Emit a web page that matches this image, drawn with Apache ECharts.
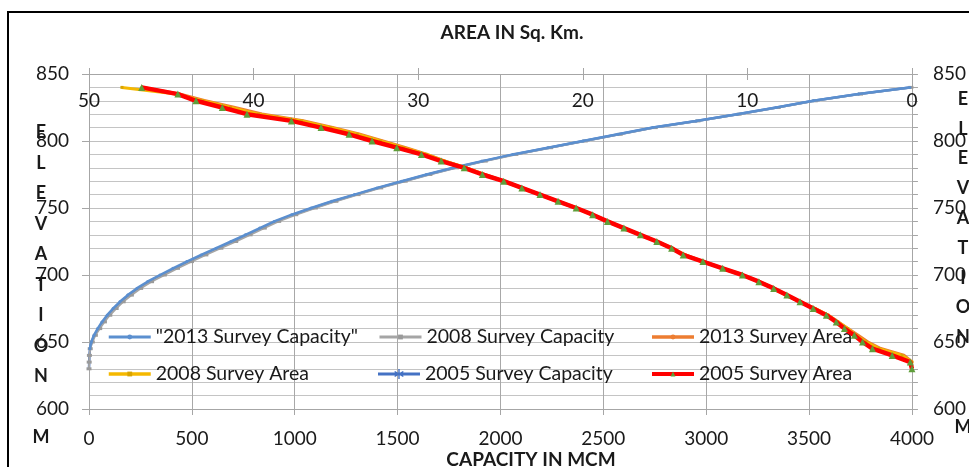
<!DOCTYPE html>
<html>
<head>
<meta charset="utf-8">
<script src="https://cdn.jsdelivr.net/npm/echarts@6/dist/echarts.min.js"></script>
<style>
  html, body { margin: 0; padding: 0; background: #fff; }
  #chart { width: 969px; height: 467px; }
</style>
</head>
<body>
<div id="chart"></div>
<script>
// Reservoir elevation (m) steps used by every survey table
const elevations = [630, 635, 640, 645, 650, 655, 660, 665, 670, 675, 680, 685, 690, 695,
  700, 705, 710, 715, 720, 725, 730, 735, 740, 745, 750, 755, 760, 765, 770, 775, 780,
  785, 790, 795, 800, 805, 810, 815, 820, 825, 830, 835, 840];

// Capacity in MCM at each elevation (null = not surveyed)
const capacity2013 = [null, null, null, 4, 11, 24, 42, 63, 88, 117, 150, 188, 232, 284,
  345, 408, 475, 545, 618, 690, 760, 830, 900, 985, 1080, 1180, 1290, 1400, 1520, 1640, 1770,
  1910, 2060, 2230, 2400, 2570, 2740, 2950, 3150, 3340, 3520, 3740, 3990];
const capacity2008 = [0, 1, 2, 6, 16, 31, 52, 75, 101, 132, 166, 206, 251, 304,
  366, 430, 498, 568, 641, 713, 783, 852, 922, 1005, 1100, 1200, 1308, 1418, 1537, 1657, 1786,
  1926, 2075, 2243, 2412, 2582, 2752, 2960, 3160, 3350, 3530, 3750, 3995];
const capacity2005 = [0, 1, 2, 5, 13, 27, 46, 68, 93, 123, 157, 196, 240, 292,
  353, 416, 484, 554, 627, 699, 769, 839, 909, 993, 1088, 1188, 1297, 1407, 1527, 1647, 1777,
  1917, 2066, 2235, 2405, 2575, 2745, 2953, 3153, 3343, 3523, 3743, 3990];

// Water spread area in Sq. Km. at each elevation
const area2013 = [null, 0.0, 0.5, 1.9, 2.7, 3.3, 3.9, 4.5, 5.1, 5.9, 6.8, 7.6, 8.4, 9.3,
  10.3, 11.5, 12.7, 13.8, 14.6, 15.5, 16.5, 17.5, 18.5, 19.4, 20.4, 21.5, 22.6, 23.7, 24.8, 26.0, 27.1,
  28.4, 29.5, 30.8, 32.2, 33.6, 35.2, 37.0, 39.5, 41.2, 43.0, 44.5, 46.8];
const area2008 = [null, 0.0, 0.6, 2.0, 2.8, 3.4, 3.9, 4.5, 5.1, 5.9, 6.8, 7.6, 8.4, 9.3,
  10.3, 11.5, 12.7, 13.8, 14.6, 15.5, 16.5, 17.5, 18.5, 19.4, 20.4, 21.5, 22.6, 23.7, 24.8, 26.0, 27.1,
  28.4, 29.5, 30.9, 32.3, 33.7, 35.3, 37.1, 39.7, 41.4, 43.1, 44.7, 48.0];
const area2005 = [0.0, 0.1, 1.2, 2.4, 3.0, 3.5, 4.1, 4.6, 5.2, 6.0, 6.8, 7.6, 8.4, 9.3,
  10.3, 11.5, 12.7, 13.9, 14.6, 15.5, 16.5, 17.5, 18.5, 19.4, 20.4, 21.5, 22.6, 23.7, 24.8, 26.1, 27.2,
  28.6, 29.8, 31.3, 32.8, 34.2, 35.9, 37.7, 40.4, 41.9, 43.5, 44.6, 46.8];

// Axis ranges and tick steps
const elevationTicks = { min: 600, max: 850, step: 50 };
const capacityTicks = { min: 0, max: 4000, step: 500 };
const areaTicks = { min: 0, max: 50, step: 10 };

function pairs(xs, ys) {
  const out = [];
  xs.forEach((x, i) => { if (x !== null) out.push([x, ys[i]]); });
  return out;
}

const FONT = 'Lato';
const TXT = '#1a1a1a';
const plain = (v) => String(v);
// six-armed star marker
const asterisk = 'path://M-0.5,-5L0.5,-5L0.5,5L-0.5,5Z' +
  'M4.08,2.93L-4.58,-2.07L-4.08,-2.93L4.58,2.07Z' +
  'M4.58,-2.07L-4.08,2.93L-4.58,2.07L4.08,-2.93Z';
// legend swatch: line segment with the star marker at its middle
const asteriskOnLine = 'path://M0,-1.6L42,-1.6L42,1.6L0,1.6Z' +
  'M20.3,-5L21.7,-5L21.7,5L20.3,5Z' +
  'M24.98,3.11L16.32,-1.89L17.02,-3.11L25.68,1.89Z' +
  'M25.68,-1.89L17.02,3.11L16.32,1.89L24.98,-3.11Z';

const chart = echarts.init(document.getElementById('chart'), null, { renderer: 'canvas' });

const legendBase = {
  orient: 'vertical', top: 327, padding: 0, itemGap: 17, itemWidth: 42, itemHeight: 6,
  textStyle: { fontFamily: FONT, fontSize: 19.5, color: TXT, lineHeight: 20 },
  selectedMode: false
};
const entry = (name, width, extra) =>
  Object.assign({ name: name, lineStyle: { width: width } }, extra || {});

chart.setOption({
  animation: false,
  backgroundColor: '#fff',
  grid: { left: 89, right: 53, top: 74, bottom: 58 },
  graphic: [
    { type: 'rect', shape: { x: 8, y: 12, width: 1000, height: 500 }, silent: true,
      style: { fill: 'none', stroke: '#000', lineWidth: 2 }, z: 100 },
    { type: 'text', x: 512, y: 33, style: { text: 'AREA IN Sq. Km.', fontFamily: FONT, fontWeight: 'bold',
      fontSize: 19, fill: TXT, align: 'center', verticalAlign: 'middle' } },
    { type: 'text', x: 531, y: 460, style: { text: 'CAPACITY IN MCM', fontFamily: FONT, fontWeight: 'bold',
      fontSize: 19, fill: TXT, align: 'center', verticalAlign: 'middle' } },
    { type: 'text', x: 41, y: 117, style: { text: 'E\nL\nE\nV\nA\nT\nI\nO\nN\n\nM', fontFamily: FONT,
      fontWeight: 'bold', fontSize: 18, lineHeight: 30.5, fill: TXT, align: 'center', verticalAlign: 'top' } },
    { type: 'text', x: 963, y: 84, style: { text: 'E\nL\nE\nV\nA\nT\nI\nO\nN\n\n\nM', fontFamily: FONT,
      fontWeight: 'bold', fontSize: 18, lineHeight: 29.8, fill: TXT, align: 'center', verticalAlign: 'top' } }
  ],
  legend: [
    Object.assign({ left: 107, data: [entry('"2013 Survey Capacity"', 3), entry('2008 Survey Area', 3.5)] }, legendBase),
    Object.assign({ left: 378, data: [entry('2008 Survey Capacity', 3)] }, legendBase),
    Object.assign({}, legendBase, { left: 378, top: 364, itemHeight: 10,
      data: [{ name: '2005 Survey Capacity', icon: asteriskOnLine, itemStyle: { color: '#4472c4' } }] }),
    Object.assign({ left: 650, data: [entry('2013 Survey Area', 3.5), entry('2005 Survey Area', 4)] }, legendBase)
  ],
  xAxis: [
    { // capacity, bottom
      type: 'value', position: 'bottom', min: capacityTicks.min, max: capacityTicks.max, interval: capacityTicks.step,
      axisLine: { show: true, lineStyle: { color: '#a6a6a6', width: 1 } },
      axisTick: { show: true, length: 6, lineStyle: { color: '#a6a6a6' } },
      axisLabel: { margin: 20, fontFamily: FONT, fontSize: 19, color: TXT, formatter: plain },
      splitLine: { show: true, lineStyle: { color: '#a8a8a8', width: 1 } }
    },
    { // area, top, labels below the line
      type: 'value', position: 'top', inverse: true, min: areaTicks.min, max: areaTicks.max, interval: areaTicks.step,
      axisLine: { show: true, onZero: false, lineStyle: { color: '#a6a6a6', width: 1 } },
      axisTick: { show: true, length: 6, lineStyle: { color: '#a6a6a6' } },
      axisLabel: { inside: true, margin: 17, fontFamily: FONT, fontSize: 19, color: TXT, formatter: plain },
      splitLine: { show: false }
    },
    { // area, top, inner half of the crossing ticks
      type: 'value', position: 'top', inverse: true, min: areaTicks.min, max: areaTicks.max, interval: areaTicks.step,
      axisLine: { show: false },
      axisTick: { show: true, inside: true, length: 6, lineStyle: { color: '#a6a6a6' } },
      axisLabel: { show: false }, splitLine: { show: false }
    }
  ],
  yAxis: [
    {
      type: 'value', position: 'left', min: elevationTicks.min, max: elevationTicks.max, interval: elevationTicks.step,
      axisLine: { show: true, lineStyle: { color: '#a6a6a6', width: 1 } },
      axisTick: { show: true, length: 7, lineStyle: { color: '#a6a6a6' } },
      axisLabel: { margin: 20, fontFamily: FONT, fontSize: 19, color: TXT, formatter: plain },
      splitLine: { show: true, lineStyle: { color: '#c0c0c0', width: 1 } },
      minorTick: { show: false, splitNumber: 5 },
      minorSplitLine: { show: true, lineStyle: { color: '#c4c4c4', width: 1 } }
    },
    {
      type: 'value', position: 'right', min: elevationTicks.min, max: elevationTicks.max, interval: elevationTicks.step,
      axisLine: { show: true, lineStyle: { color: '#a6a6a6', width: 1 } },
      axisTick: { show: true, length: 6, lineStyle: { color: '#a6a6a6' } },
      minorTick: { show: true, splitNumber: 5, length: 6, lineStyle: { color: '#a6a6a6' } },
      axisLabel: { margin: 21, fontFamily: FONT, fontSize: 19, color: TXT, formatter: plain },
      splitLine: { show: false }
    }
  ],
  series: [
    {
      // lies under the 2013 curve, markers off
      name: '2005 Survey Capacity', type: 'line', xAxisIndex: 0, yAxisIndex: 0, z: 1,
      data: pairs(capacity2005, elevations), symbol: asterisk, symbolSize: 9, showSymbol: false,
      lineStyle: { color: '#4472c4', width: 2.5 }, itemStyle: { color: '#4472c4' }
    },
    {
      name: '2008 Survey Capacity', type: 'line', xAxisIndex: 0, yAxisIndex: 0, z: 2,
      data: pairs(capacity2008, elevations), symbol: 'rect', symbolSize: [5, 3],
      lineStyle: { color: '#a5a5a5', width: 2 }, itemStyle: { color: '#9a9a9a' }
    },
    {
      name: '"2013 Survey Capacity"', type: 'line', xAxisIndex: 0, yAxisIndex: 0, z: 3,
      data: pairs(capacity2013, elevations), symbol: 'circle', symbolSize: 3,
      lineStyle: { color: '#5b8fcf', width: 2.5 }, itemStyle: { color: '#5b8fcf' }
    },
    {
      name: '2013 Survey Area', type: 'line', xAxisIndex: 1, yAxisIndex: 0, z: 4,
      data: pairs(area2013, elevations), symbol: 'circle', symbolSize: 3,
      lineStyle: { color: '#ed7d31', width: 3.5 }, itemStyle: { color: '#ed7d31' }
    },
    {
      name: '2008 Survey Area', type: 'line', xAxisIndex: 1, yAxisIndex: 0, z: 5,
      data: pairs(area2008, elevations), symbol: 'rect', symbolSize: 3,
      lineStyle: { color: '#f5b800', width: 3 }, itemStyle: { color: '#d9a400' }
    },
    {
      name: '2005 Survey Area', type: 'line', xAxisIndex: 1, yAxisIndex: 0, z: 6,
      data: pairs(area2005, elevations), symbol: 'triangle', symbolSize: 7,
      lineStyle: { color: '#ff0000', width: 4.5 }, itemStyle: { color: '#5f9e3a' }
    }
  ]
});
</script>
</body>
</html>
